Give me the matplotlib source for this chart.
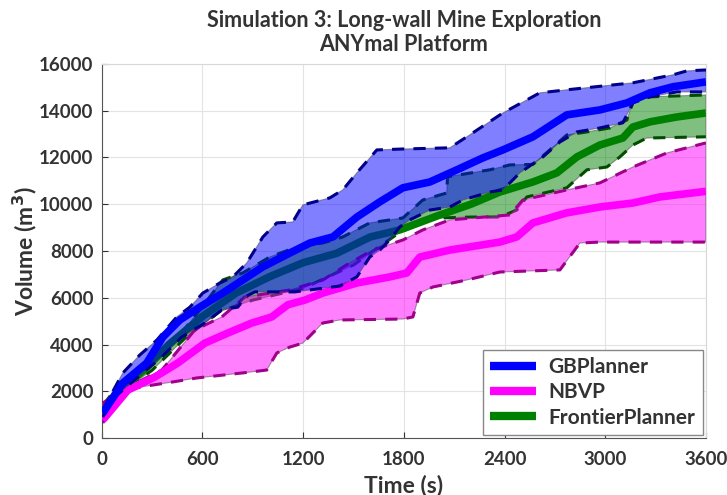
import numpy as np
import matplotlib
matplotlib.use("Agg")
import matplotlib.pyplot as plt

# ---- data ----
# GBPlanner
gb_up_t = [6, 125, 226, 328, 447, 525, 602, 703, 781, 864, 960, 1043, 1138, 1198, 1359, 1436, 1520, 1639,
           1794, 2074, 2175, 2390, 2610, 2771, 3165, 3403, 3487, 3600]
gb_up_v = [1200, 2780, 3550, 4190, 5180, 5600, 6200, 6630, 6890, 7490, 8600, 9200, 9240, 9970, 10270, 10610,
           11340, 12320, 12360, 12410, 12880, 13900, 14760, 14890, 15190, 15530, 15700, 15740]
gb_mean_t = [6, 125, 268, 364, 465, 584, 721, 840, 960, 1120, 1240, 1377, 1520, 1657, 1794, 1955, 2116, 2271,
             2390, 2569, 2771, 2968, 3129, 3266, 3403, 3600]
gb_mean_v = [1070, 2350, 3210, 4320, 5050, 5600, 6200, 6760, 7320, 7910, 8340, 8600, 9450, 10100, 10700, 10950,
             11470, 11980, 12320, 12880, 13820, 14030, 14330, 14760, 15020, 15230]
gb_lo_t = [6, 77, 215, 358, 477, 614, 715, 811, 852, 912, 1150, 1419, 1520, 1597, 1657, 1716, 1776, 1836, 1955,
           2074, 2152, 2312, 2390, 2491, 2628, 2730, 2831, 2968, 3105, 3165, 3266, 3427, 3600]
gb_lo_v = [900, 1750, 2610, 3470, 4320, 4920, 5480, 5600, 6030, 6250, 6250, 6500, 6890, 7740, 8040, 8470, 9030,
           9330, 9750, 9880, 10180, 10520, 10610, 11340, 12020, 12660, 13090, 13260, 13480, 14330, 14590,
           14800, 14800]

# NBVP
nb_up_t = [6, 155, 358, 554, 715, 852, 1120, 1317, 1478, 1615, 1794, 1913, 2074, 2432, 2509, 2771, 2968, 3165,
           3367, 3600]
nb_up_v = [1500, 2180, 2910, 4620, 5180, 6030, 6330, 6760, 7490, 8040, 8470, 8900, 9330, 9540, 10180, 10610,
           10910, 11590, 12190, 12620]
nb_mean_t = [6, 155, 316, 453, 614, 751, 894, 1013, 1109, 1210, 1317, 1520, 1716, 1818, 1895, 2074, 2372, 2473,
             2569, 2771, 2968, 3165, 3326, 3600]
nb_mean_v = [770, 2050, 2610, 3210, 4060, 4490, 4920, 5180, 5700, 5900, 6200, 6630, 6890, 7060, 7740, 8040,
             8380, 8600, 9200, 9630, 9880, 10050, 10310, 10550]
nb_lo_t = [6, 125, 226, 423, 566, 882, 983, 1043, 1120, 1198, 1317, 1419, 1794, 1854, 1895, 1973, 2175, 2372,
           2730, 2849, 2968, 3600]
nb_lo_v = [650, 1930, 2180, 2400, 2570, 2820, 2910, 3640, 3890, 4060, 4920, 5050, 5090, 5180, 6200, 6460, 6760,
           7100, 7190, 8340, 8380, 8380]

# FrontierPlanner
fp_up_t = [6, 77, 226, 346, 465, 584, 721, 840, 1001, 1162, 1317, 1436, 1597, 1794, 1913, 2056, 2060, 2312, 2432,
           2569, 2670, 2771, 2891, 3028, 3129, 3165, 3266, 3600]
fp_up_v = [1400, 2050, 2700, 3550, 4400, 5480, 6760, 7060, 7740, 8170, 8340, 8600, 9200, 9410, 10180, 10480,
           11170, 11470, 11680, 11700, 12320, 12960, 13090, 13260, 13600, 14370, 14590, 14670]
fp_mean_t = [6, 100, 250, 400, 600, 800, 1000, 1200, 1400, 1600, 1776, 2000, 2200, 2372, 2569, 2712, 2831, 2968,
             3105, 3165, 3266, 3427, 3600]
fp_mean_v = [1100, 2000, 2900, 4000, 5200, 6200, 6900, 7500, 7900, 8600, 8900, 9500, 10000, 10520, 10950, 11340,
             12020, 12530, 12830, 13300, 13520, 13730, 13900]
fp_lo_t = [6, 100, 300, 500, 700, 900, 1200, 1500, 1776, 1973, 2200, 2372, 2473, 2533, 2771, 2891, 3010, 3087,
           3165, 3248, 3600]
fp_lo_v = [800, 1900, 2900, 4300, 5400, 5900, 6400, 7400, 8800, 9400, 9450, 9450, 9750, 10310, 10700, 11470,
           11590, 12020, 12530, 12830, 12880]

names = ["GBPlanner", "NBVP", "FrontierPlanner"]
colors = ["#0000ff", "#ff00ff", "#008000"]
edge_colors = ["#00008b", "#a0008b", "#004d00"]

series = [
    (gb_up_t, gb_up_v, gb_mean_t, gb_mean_v, gb_lo_t, gb_lo_v),
    (nb_up_t, nb_up_v, nb_mean_t, nb_mean_v, nb_lo_t, nb_lo_v),
    (fp_up_t, fp_up_v, fp_mean_t, fp_mean_v, fp_lo_t, fp_lo_v),
]

txt = "#333333"
plt.rcParams["font.family"] = ["Lato", "DejaVu Sans"]
plt.rcParams["font.weight"] = "bold"

fig = plt.figure(figsize=(7.27, 4.95), dpi=100)
ax = fig.add_axes([0.140, 0.115, 0.831, 0.756])

# draw green first, then pink, then blue so later bands tint the earlier ones
handles = {}
z = 2
for i in [2, 1, 0]:
    ut, uv, mt, mv, lt, lv = series[i]
    px = np.concatenate([ut, lt[::-1]])
    py = np.concatenate([uv, lv[::-1]])
    ax.fill(px, py, facecolor=colors[i], alpha=0.5, edgecolor="#444444", linewidth=0.8, zorder=z)
    ax.plot(ut, uv, color=edge_colors[i], lw=2.2, ls=(0, (4, 3)), zorder=z + 0.1)
    ax.plot(lt, lv, color=edge_colors[i], lw=2.2, ls=(0, (4, 3)), zorder=z + 0.1)
    handles[i], = ax.plot(mt, mv, color=colors[i], lw=5.5, solid_capstyle="butt", zorder=z + 0.2,
                          label=names[i])
    z += 1

ax.set_xlim(0, 3600)
ax.set_ylim(0, 16000)
ax.set_xticks(np.arange(0, 3601, 600))
ax.set_yticks(np.arange(0, 16001, 2000))
ax.grid(True, color="#e3e3e3", lw=0.8)
ax.set_axisbelow(True)
ax.tick_params(direction="in", length=4, labelsize=13.5, colors=txt, labelcolor=txt, pad=6)
ax.tick_params(axis="x", pad=9)
for lab in ax.get_xticklabels() + ax.get_yticklabels():
    lab.set_fontweight("bold")
for s in ["top", "right"]:
    ax.spines[s].set_color("#d8d8d8")
for s in ["left", "bottom"]:
    ax.spines[s].set_color("#555555")

ax.set_xlabel("Time (s)", fontsize=16.5, fontweight="bold", color=txt, labelpad=5)
ax.set_ylabel("Volume (m$^\\mathbf{3}$)", fontsize=16.5, fontweight="bold", color=txt, labelpad=0)
ax.set_title("Simulation 3: Long-wall Mine Exploration\nANYmal Platform", fontsize=15.5, fontweight="bold",
             color=txt, pad=9, linespacing=1.2)

leg = ax.legend([handles[0], handles[1], handles[2]], names, loc="lower right", fontsize=15,
                handlelength=2.2, fancybox=False, framealpha=1, edgecolor="#888888",
                borderpad=0.35, labelspacing=0.25, handletextpad=0.6, borderaxespad=0.15)
for t in leg.get_texts():
    t.set_color(txt)
    t.set_fontweight("bold")
for ln in leg.get_lines():
    ln.set_linewidth(6)
leg.set_zorder(10)

fig.savefig("out.png", dpi=100)
